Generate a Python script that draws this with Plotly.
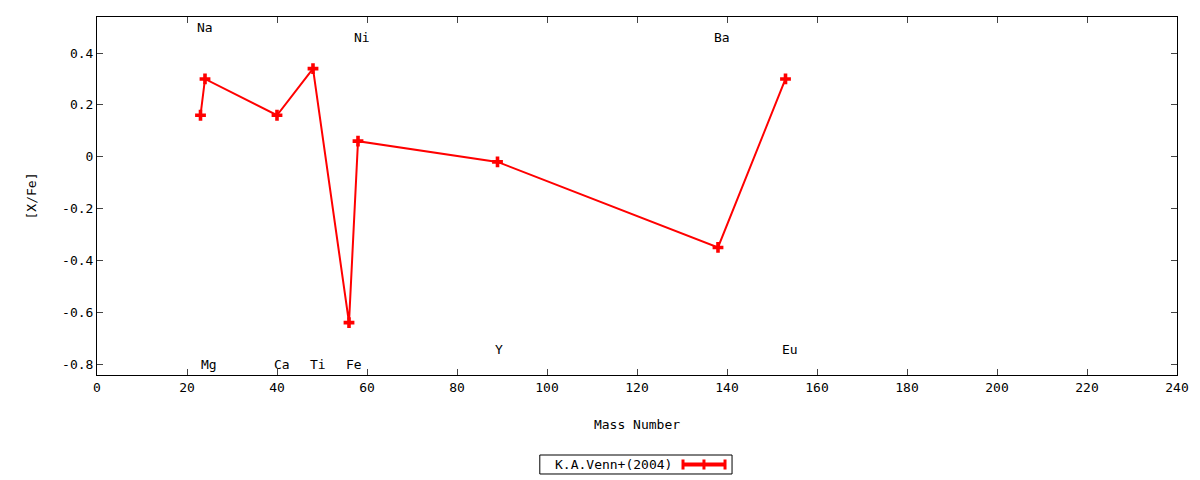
import plotly.graph_objects as go

# abundance pattern, K.A.Venn+(2004)
mass = [23, 24, 40, 48, 56, 58, 89, 138, 153]
xfe = [0.16, 0.30, 0.16, 0.34, -0.64, 0.06, -0.02, -0.35, 0.30]

# element labels
elem = ["Na", "Mg", "Ca", "Ti", "Fe", "Ni", "Y", "Ba", "Eu"]
lab_x = [24.0, 24.9, 41.1, 49.1, 57.1, 58.9, 89.3, 138.9, 154.0]
lab_y = [0.50, -0.80, -0.80, -0.80, -0.80, 0.46, -0.745, 0.46, -0.745]

xticks = [0, 20, 40, 60, 80, 100, 120, 140, 160, 180, 200, 220, 240]
yticks = [-0.8, -0.6, -0.4, -0.2, 0, 0.2, 0.4]
yticktext = ["-0.8", "-0.6", "-0.4", "-0.2", "0", "0.2", "0.4"]

font = "DejaVu Sans Mono"

fig = go.Figure()
fig.add_trace(go.Scatter(
    x=mass, y=xfe, mode="lines+markers", name="K.A.Venn+(2004)",
    line=dict(color="#ff0000", width=2),
    marker=dict(symbol="cross", size=9, color="#ff0000"),
    showlegend=False))

for t, x, y in zip(elem, lab_x, lab_y):
    fig.add_annotation(x=x, y=y, text=t, showarrow=False,
                       font=dict(family=font, size=13, color="black"))

# gnuplot style key at the bottom
fig.add_shape(type="rect", xref="paper", yref="paper",
              x0=0.410, x1=0.588, y0=-0.2765, y1=-0.2235,
              line=dict(color="black", width=1))
fig.add_annotation(xref="paper", yref="paper", x=0.4787, y=-0.2500,
                   yanchor="middle", text="K.A.Venn+(2004)", showarrow=False,
                   font=dict(family=font, size=13, color="black"))
fig.add_shape(type="line", xref="paper", yref="paper",
              x0=0.5426, x1=0.5815, y0=-0.2500, y1=-0.2500,
              line=dict(color="#ff0000", width=4))
for px in [0.5426, 0.562, 0.5815]:
    fig.add_shape(type="line", xref="paper", yref="paper",
                  x0=px, x1=px, y0=-0.2640, y1=-0.2360,
                  line=dict(color="#ff0000", width=3))

fig.update_xaxes(range=[0, 240], tickvals=xticks, ticks="inside", ticklen=6,
                 mirror="allticks", showline=True, linecolor="black", linewidth=1,
                 showgrid=False, zeroline=False,
                 title=dict(text="Mass Number", standoff=26,
                            font=dict(family=font, size=13)),
                 tickfont=dict(family=font, size=13, color="black"))
fig.update_yaxes(range=[-0.842, 0.539], tickvals=yticks, ticktext=yticktext,
                 ticks="inside", ticklen=6,
                 mirror="allticks", showline=True, linecolor="black", linewidth=1,
                 showgrid=False, zeroline=False,
                 title=dict(text="[X/Fe]", standoff=22,
                            font=dict(family=font, size=13)),
                 tickfont=dict(family=font, size=13, color="black"))

fig.update_layout(width=1200, height=480,
                  margin=dict(l=97, r=23, t=17, b=105),
                  paper_bgcolor="white", plot_bgcolor="white",
                  font=dict(family=font, size=13, color="black"))

# drop the default 8px body margin so the figure fills the window
fig.write_html("out.html", config={"displayModeBar": False},
               post_script="document.body.style.margin='0px';")
